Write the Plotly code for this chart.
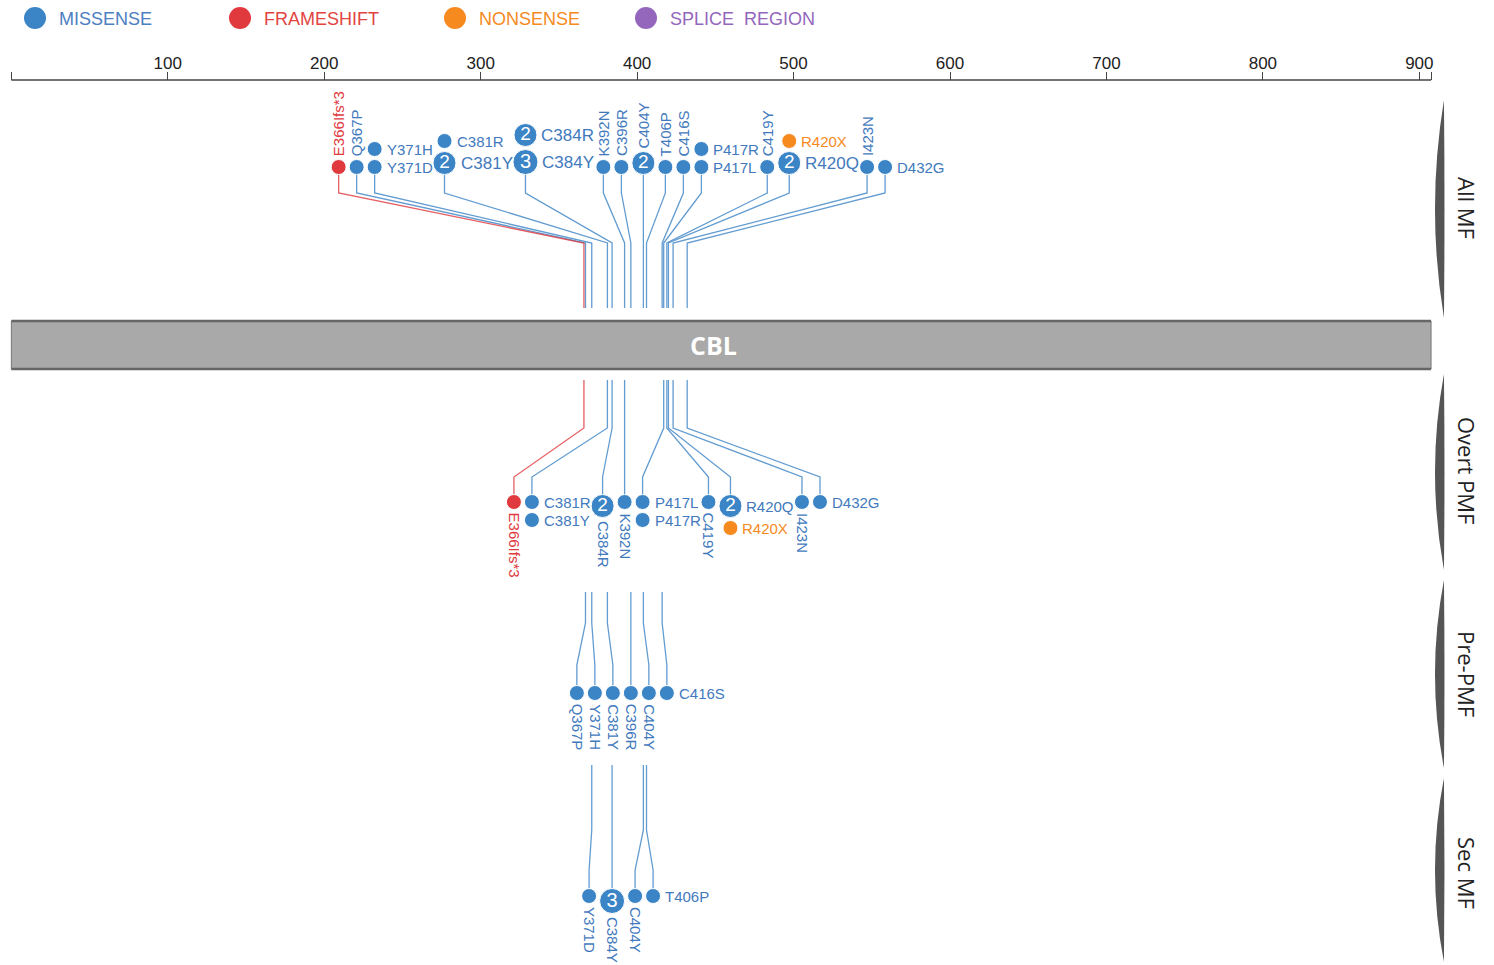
import plotly.graph_objects as go

# ---------------------------------------------------------------- data
PROTEIN = "CBL"
PROTEIN_LENGTH = 906
RULER_TICKS = [100, 200, 300, 400, 500, 600, 700, 800, 900]

CLASSES = ["MISSENSE", "FRAMESHIFT", "NONSENSE", "SPLICE REGION"]

overt_mutations = ["E366Ifs*3", "C381R", "C381Y", "C384R", "K392N", "P417L",
                   "P417R", "C419Y", "R420Q", "R420X", "I423N", "D432G"]
overt_positions = [366, 381, 381, 384, 392, 417, 417, 419, 420, 420, 423, 432]
overt_classes = ["FRAMESHIFT", "MISSENSE", "MISSENSE", "MISSENSE", "MISSENSE",
                 "MISSENSE", "MISSENSE", "MISSENSE", "MISSENSE", "NONSENSE",
                 "MISSENSE", "MISSENSE"]
overt_counts = [1, 1, 1, 2, 1, 1, 1, 1, 2, 1, 1, 1]

pre_mutations = ["Q367P", "Y371H", "C381Y", "C396R", "C404Y", "C416S"]
pre_positions = [367, 371, 381, 396, 404, 416]
pre_classes = ["MISSENSE", "MISSENSE", "MISSENSE", "MISSENSE", "MISSENSE", "MISSENSE"]
pre_counts = [1, 1, 1, 1, 1, 1]

sec_mutations = ["Y371D", "C384Y", "C404Y", "T406P"]
sec_positions = [371, 384, 404, 406]
sec_classes = ["MISSENSE", "MISSENSE", "MISSENSE", "MISSENSE"]
sec_counts = [1, 3, 1, 1]

GROUPS = ["All MF", "Overt PMF", "Pre-PMF", "Sec MF"]

# ---------------------------------------------------------------- styles
W, H = 1494, 965
X0, SCALE = 11.36, 1.5644            # page x of residue 0, pixels per residue

COLORS = {"MISSENSE": "#3b84c6", "FRAMESHIFT": "#e0393e",
          "NONSENSE": "#f68a1e", "SPLICE REGION": "#9467bd"}
TEXT_COLORS = {"MISSENSE": "#4279bd", "FRAMESHIFT": "#e0393e",
               "NONSENSE": "#f68a1e", "SPLICE REGION": "#9467bd"}
LEGEND_TEXT = {"MISSENSE": "#4c80c2", "FRAMESHIFT": "#e2443f",
               "NONSENSE": "#f58a1f", "SPLICE REGION": "#9467bd"}
FONT = "Liberation Sans, Arial, sans-serif"
NARROW = "Liberation Sans Narrow, Arial Narrow, Liberation Sans, Arial, sans-serif"
TITLE_FONT = "Open Sans, Noto Sans, sans-serif"

# panel geometry (page pixels): direction of the stack, the y where the
# connector leaves the protein, the first disc row and the bend heights
PANELS = {
    "All MF":    dict(dir=-1, start=308, base=167, bend_near=243, bend_far=193,
                      span=(100, 318), label=208, big_font=17),
    "Overt PMF": dict(dir=1, start=380, base=502, bend_near=428, bend_far=477,
                      span=(374, 570), label=470, big_font=15),
    "Pre-PMF":   dict(dir=1, start=592, base=693, bend_near=623, bend_far=665,
                      span=(580, 768), label=674, big_font=15),
    "Sec MF":    dict(dir=1, start=765, base=896, bend_near=830, bend_far=870,
                      span=(778, 962), label=873, big_font=15),
}
BAR_Y = (321, 369)
RULER_Y = 80
DISC_PAD = 2.0


def px(pos):
    return X0 + SCALE * pos


def radius(count):
    return {1: 8.0, 2: 12.0}.get(count, 13.0)


CHAR_W = {d: 0.556 for d in "0123456789"}
CHAR_W.update({"C": 0.722, "Y": 0.667, "H": 0.722, "D": 0.722, "R": 0.722,
               "L": 0.556, "P": 0.667, "Q": 0.778, "X": 0.667, "G": 0.778,
               "N": 0.722, "S": 0.667, "E": 0.667, "T": 0.611, "K": 0.667,
               "I": 0.278})


def text_width(s, size):
    return sum(CHAR_W.get(c, 0.6) for c in s) * size


# ---------------------------------------------------------------- cohorts
def cohort(names, positions, classes, counts):
    return [dict(name=n, pos=p, cls=c, count=k)
            for n, p, c, k in zip(names, positions, classes, counts)]


cohorts = {
    "Overt PMF": cohort(overt_mutations, overt_positions, overt_classes, overt_counts),
    "Pre-PMF": cohort(pre_mutations, pre_positions, pre_classes, pre_counts),
    "Sec MF": cohort(sec_mutations, sec_positions, sec_classes, sec_counts),
}
# the combined cohort is the sum of the three subgroups
merged = {}
for g in ["Overt PMF", "Pre-PMF", "Sec MF"]:
    for m in cohorts[g]:
        key = m["name"]
        if key in merged:
            merged[key]["count"] += m["count"]
        else:
            merged[key] = dict(m)
cohorts["All MF"] = list(merged.values())


def layout_panel(muts, big_font):
    """Group mutations by residue, stack them and spread the stacks apart."""
    sites = {}
    for m in muts:
        sites.setdefault(m["pos"], []).append(m)
    order = sorted(sites)
    items = []
    for i, p in enumerate(order):
        stack = sorted(sites[p], key=lambda m: (-m["count"], m["name"]))
        horizontal = len(stack) > 1 or i == len(order) - 1
        r = max(radius(m["count"]) for m in stack)
        lw = 0.0
        for m in stack:
            m["font"] = big_font if m["count"] > 1 else 15
        if horizontal:
            lw = max(text_width(m["name"], m["font"]) for m in stack) + 2
        items.append(dict(pos=p, stack=stack, horizontal=horizontal, r=r, lw=lw))
    # minimum centre distances between neighbours
    gaps = [items[i]["r"] + items[i]["lw"] + items[i + 1]["r"] + DISC_PAD
            for i in range(len(items) - 1)]
    offs = [0.0]
    for g in gaps:
        offs.append(offs[-1] + g)
    # merge stacks that would collide into rigid clusters
    blocks = []
    for i in range(len(items)):
        blocks.append([i])
        while True:
            b = blocks[-1]
            start = sum(px(items[j]["pos"]) - offs[j] for j in b) / len(b)
            if len(blocks) > 1:
                pb = blocks[-2]
                pstart = sum(px(items[j]["pos"]) - offs[j] for j in pb) / len(pb)
                if pstart + offs[pb[-1]] + gaps[pb[-1]] > start + offs[b[0]]:
                    blocks[-2] = pb + b
                    blocks.pop()
                    continue
            break
    # each cluster keeps the site nearest its mean residue midpoint in place
    for b in blocks:
        target = sum(items[j]["pos"] + 0.5 for j in b) / len(b)
        pivot = min(b, key=lambda j: (abs(items[j]["pos"] - target), j))
        start = px(items[pivot]["pos"]) - offs[pivot]
        for j in b:
            items[j]["x"] = start + offs[j]
    return items


fig = go.Figure()
annotations = []
shapes = []


def to_pos(xpx):
    return (xpx - X0) / SCALE


disc_x = {c: [] for c in CLASSES}
disc_y = {c: [] for c in CLASSES}
disc_s = {c: [] for c in CLASSES}
num_x, num_y, num_t, num_s = [], [], [], []
line_x = {c: [] for c in CLASSES}
line_y = {c: [] for c in CLASSES}

for g in GROUPS:
    cfg = PANELS[g]
    d = cfg["dir"]
    for it in layout_panel(cohorts[g], cfg["big_font"]):
        x_true = px(it["pos"])
        x_disp = it["x"]
        stack = it["stack"]
        # stacked disc centres
        centers = []
        c = cfg["base"] + d * (radius(stack[0]["count"]) - 8)
        for k, m in enumerate(stack):
            if k > 0:
                c += d * (radius(stack[k - 1]["count"]) + radius(m["count"]) + DISC_PAD)
            centers.append(c)
        # connector from the protein to the first disc
        lc = "FRAMESHIFT" if any(m["cls"] == "FRAMESHIFT" for m in stack) else "MISSENSE"
        line_x[lc] += [to_pos(x_true), to_pos(x_true), to_pos(x_disp), to_pos(x_disp), None]
        line_y[lc] += [cfg["start"], cfg["bend_near"], cfg["bend_far"], centers[0], None]
        for m, cy in zip(stack, centers):
            r = radius(m["count"])
            disc_x[m["cls"]].append(to_pos(x_disp))
            disc_y[m["cls"]].append(cy)
            disc_s[m["cls"]].append(2 * r - 1)
            if m["count"] > 1:
                num_x.append(to_pos(x_disp))
                num_y.append(cy + 0.5)
                num_t.append(str(m["count"]))
                num_s.append(19 if m["count"] == 2 else 20)
            color = TEXT_COLORS[m["cls"]]
            if it["horizontal"]:
                annotations.append(dict(
                    x=(x_disp + r + 3) / W, y=1 - cy / H, xref="paper", yref="paper",
                    text=m["name"], showarrow=False, xanchor="left", yanchor="middle",
                    font=dict(family=FONT, size=m["font"], color=color), borderpad=0))
            elif d < 0:
                annotations.append(dict(
                    x=x_disp / W, y=1 - (cy - r - 2) / H, xref="paper", yref="paper",
                    text=m["name"], showarrow=False, textangle=-90,
                    xanchor="center", yanchor="bottom",
                    font=dict(family=FONT, size=15, color=color), borderpad=0))
            else:
                annotations.append(dict(
                    x=(x_disp + 1) / W, y=1 - (cy + r + 2) / H, xref="paper", yref="paper",
                    text=m["name"], showarrow=False, textangle=90,
                    xanchor="center", yanchor="top",
                    font=dict(family=FONT, size=15, color=color), borderpad=0))

for c in CLASSES:
    if line_x[c]:
        fig.add_trace(go.Scatter(
            x=line_x[c], y=line_y[c], mode="lines", hoverinfo="skip",
            line=dict(color=COLORS[c], width=1.3), opacity=0.8, showlegend=False))
for c in CLASSES:
    if disc_x[c]:
        fig.add_trace(go.Scatter(
            x=disc_x[c], y=disc_y[c], mode="markers", name=c, showlegend=False,
            marker=dict(color=COLORS[c], size=disc_s[c], opacity=1,
                        line=dict(color="white", width=1))))
fig.add_trace(go.Scatter(
    x=num_x, y=num_y, mode="text", text=num_t, showlegend=False, hoverinfo="skip",
    textfont=dict(family=FONT, size=num_s, color="white")))

# ---------------------------------------------------------------- protein bar
BAR_END = PROTEIN_LENGTH + 1.5
shapes.append(dict(type="rect", xref="x", yref="y", x0=0, x1=BAR_END,
                   y0=BAR_Y[0], y1=BAR_Y[1], fillcolor="#a9a9a9",
                   line=dict(color="#777777", width=1), layer="below"))
for yy in BAR_Y:
    shapes.append(dict(type="line", xref="x", yref="y", x0=0, x1=BAR_END,
                       y0=yy, y1=yy, line=dict(color="#666666", width=2.5)))
annotations.append(dict(x=BAR_END / 2 - 5, y=(BAR_Y[0] + BAR_Y[1]) / 2,
                        xref="x", yref="y", text="<b>%s</b>" % PROTEIN, showarrow=False,
                        font=dict(family=TITLE_FONT, size=25, color="white")))

# ruler line (ticks come from the x axis)
shapes.append(dict(type="line", xref="x", yref="y", x0=0, x1=BAR_END,
                   y0=RULER_Y, y1=RULER_Y, line=dict(color="#444444", width=1.5)))

# ---------------------------------------------------------------- group brackets
for g in GROUPS:
    cfg = PANELS[g]
    t, b = cfg["span"]
    m = (t + b) / 2
    xr, xl = 1444 / W, 1426 / W
    path = "M %.4f,%.4f Q %.4f,%.4f %.4f,%.4f Q %.4f,%.4f %.4f,%.4f Z" % (
        xr, 1 - t / H, xl, 1 - m / H, xr, 1 - b / H, 1445 / W, 1 - m / H, xr, 1 - t / H)
    shapes.append(dict(type="path", xref="paper", yref="paper", path=path,
                       fillcolor="#555555", line=dict(width=0)))
    annotations.append(dict(x=1467 / W, y=1 - cfg["label"] / H, xref="paper", yref="paper",
                            text=g, showarrow=False, textangle=90,
                            xanchor="center", yanchor="middle",
                            font=dict(family=TITLE_FONT, size=22, color="#222222")))

# ---------------------------------------------------------------- legend
legend_x = [35, 240, 455, 646]
for c, lx in zip(CLASSES, legend_x):
    shapes.append(dict(type="circle", xref="paper", yref="paper",
                       x0=(lx - 11) / W, x1=(lx + 11) / W,
                       y0=1 - 29 / H, y1=1 - 7 / H,
                       fillcolor=COLORS[c], line=dict(width=0)))
    annotations.append(dict(x=(lx + 22) / W, y=1 - 18.5 / H, xref="paper", yref="paper",
                            text=c.replace(" ", "&nbsp;&nbsp;"), showarrow=False,
                            xanchor="left", yanchor="middle",
                            font=dict(family=FONT, size=18, color=LEGEND_TEXT[c])))

fig.update_layout(
    width=W, height=H, margin=dict(l=0, r=0, t=0, b=0),
    paper_bgcolor="white", plot_bgcolor="white",
    xaxis=dict(range=[to_pos(0), to_pos(W)], showgrid=False, zeroline=False,
               showline=False, side="top", anchor="free", position=1 - RULER_Y / H,
               tickmode="array", tickvals=[0] + RULER_TICKS + [BAR_END],
               ticktext=[""] + [str(t) for t in RULER_TICKS] + [""],
               ticks="outside", ticklen=8, tickwidth=1.2, tickcolor="#444444",
               ticklabelstandoff=-4,
               tickfont=dict(family=NARROW, size=17, color="#222222"),
               fixedrange=True),
    yaxis=dict(range=[H, 0], visible=False, fixedrange=True),
    shapes=shapes, annotations=annotations, showlegend=False,
)

fig.write_html("out.html")
